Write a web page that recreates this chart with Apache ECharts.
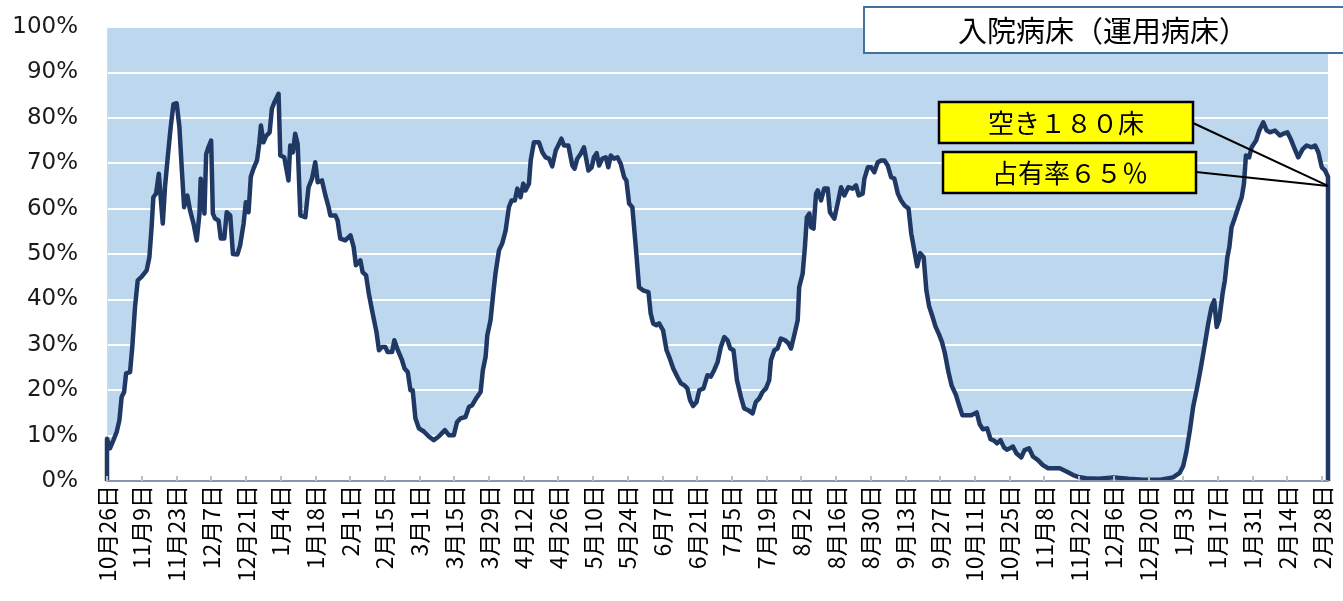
<!DOCTYPE html>
<html>
<head>
<meta charset="utf-8">
<title>入院病床（運用病床）</title>
<script src="https://cdn.jsdelivr.net/npm/echarts@6.0.0/dist/echarts.min.js"></script>
<style>
  html, body { margin: 0; padding: 0; background: #fff; }
  #main { width: 1343px; height: 601px; }
</style>
</head>
<body>
<div id="main"></div>
<script>
// 14日ごとの目盛ラベル（10月26日〜2月28日）
var tickLabels = [
  '10月26日', '11月9日', '11月23日', '12月7日', '12月21日', '1月4日', '1月18日',
  '2月1日', '2月15日', '3月1日', '3月15日', '3月29日', '4月12日', '4月26日',
  '5月10日', '5月24日', '6月7日', '6月21日', '7月5日', '7月19日', '8月2日',
  '8月16日', '8月30日', '9月13日', '9月27日', '10月11日', '10月25日', '11月8日',
  '11月22日', '12月6日', '12月20日', '1月3日', '1月17日', '1月31日', '2月14日', '2月28日'
];

// 10月26日からの経過日数
var days = [
  0, 0, 1.2, 2.6, 3.9, 5, 5.9, 6.9, 7.7, 9.3, 10.2, 11.3, 12.4, 14, 16, 17.1, 18, 18.7, 19.8,
  20.9, 21.7, 22.5, 23.4, 24.5, 25.7, 26.8, 28.1, 29.2, 30.2, 31.1, 32.4, 33.5, 34.9, 36.2,
  37.3, 37.8, 38.6, 39.3, 40, 40.9, 42, 42.7, 43.6, 45, 45.9, 47.3, 48.3, 49.7, 50.8, 52.6,
  53.7, 55.1, 56, 57.1, 58, 59.1, 60.5, 61.4, 62.1, 63.1, 64.2, 65.6, 66.5, 67.5, 69.2, 69.9,
  71.5, 73.2, 73.9, 75, 75.9, 76.9, 78, 80, 81.3, 82.7, 84, 85, 86.7, 88.1, 89.4, 90.1, 92.1,
  93, 94.1, 96.1, 98.2, 99.5, 100.4, 102.2, 103.1, 104.5, 105.6, 106.9, 108.7, 109.7, 110.9,
  112.3, 113.2, 115, 115.9, 117.3, 119, 120, 121.3, 122.4, 123.3, 124.4, 125.8, 127.8, 129.8,
  131.8, 133.8, 136.3, 137.9, 139.9, 141.2, 142.6, 144.6, 146, 147.3, 148.9, 150.7, 151.6,
  152.7, 153.4, 154.7, 155.8, 156.7, 158.1, 159.4, 160.8, 162.1, 163.2, 164.5, 165.5, 166.8,
  167.9, 168.8, 170.2, 170.9, 172.2, 174.2, 175.6, 176.9, 178.3, 179.6, 181, 182, 183.3, 184.3,
  186.1, 187.7, 188.6, 189.7, 191.1, 192.4, 194.2, 195.5, 196.4, 197.5, 198.5, 199.8, 201.2,
  202.2, 203.2, 204.5, 205.9, 207.2, 208.6, 209.5, 210.6, 211.9, 213.3, 214.6, 216.2, 218.4,
  219.3, 220.3, 221.6, 222.7, 224.3, 225.7, 227, 228.4, 230.1, 231.5, 232.8, 234.1, 235.2,
  236.4, 237.8, 238.9, 240.6, 242.2, 243.6, 244.9, 246.3, 247.6, 249, 250.3, 251.4, 252.7,
  254.1, 255.7, 257, 258.6, 260.4, 261.7, 263.1, 264.4, 265.8, 267.1, 267.8, 269.2, 270.5,
  271.8, 273.5, 274.9, 275.9, 277.2, 278.6, 279.2, 280.6, 281.5, 282.3, 283.3, 284, 285, 286,
  286.7, 288, 289.3, 290.7, 291.6, 293.4, 294.7, 296.1, 297.4, 299, 300.8, 302.1, 303.2,
  304.8, 305.5, 306.9, 308.2, 309.5, 310.9, 312.2, 313.6, 314.9, 316.3, 317.6, 319, 320.3,
  321.7, 323.3, 324.4, 325.7, 326.8, 328, 329.4, 330.5, 331.6, 332.8, 334.2, 335.6, 336.8,
  337.9, 339.4, 340.7, 342.4, 343.8, 345, 348.6, 350.8, 352, 353.3, 355, 356.4, 357.8, 359,
  360.4, 361.8, 363, 364.2, 365.4, 366.8, 368.8, 370.1, 371.9, 373.5, 375.5, 377.5, 379.6,
  381.6, 384.3, 387, 389.7, 391.7, 395, 400, 406, 412, 418, 425, 430, 432.7, 434.1, 435.4,
  436.8, 438.1, 439.5, 440.8, 442.2, 443.3, 444.2, 445.5, 446.6, 447.6, 448.6, 450, 450.9,
  451.9, 452.7, 453.6, 455, 456.3, 457.7, 458.6, 459.4, 460.7, 461.7, 463.5, 464.8, 466.4,
  467.8, 469.1, 471.1, 473.1, 474.5, 476.1, 477.4, 478.8, 480.5, 482.3, 483.9, 485.9, 487.3,
  488.6, 490, 491.3, 492.5, 492.5
];

// 病床占有率（%）
var occupancy = [
  0, 9.3, 7.2, 9, 10.8, 13.4, 18.5, 19.6, 23.7, 24, 29.5, 38.3, 44.2, 45, 46.4, 49.3, 56, 62.5, 63.3,
  67.7, 67.3, 56.7, 64.8, 71.3, 78, 83, 83.2, 78, 68.4, 60.3, 62.9, 59.6, 56.7, 53,
  58.9, 66.6, 67, 58.9, 72, 73.5, 75, 58.9, 57.8, 57.4, 53.4, 53.4, 59.2, 58.5, 50, 49.9,
  51.9, 56.7, 61.4, 59.2, 67, 68.8, 70.6, 74.3, 78.3, 74.6, 76, 76.8, 82, 83.4, 85.3, 71.7,
  71.3, 66.2, 73.9, 72.4, 76.5, 74.3, 58.5, 58.1, 64.7, 66.6, 70.2, 65.8, 66.2, 62.9, 60.3, 58.5, 58.5,
  57.4, 53.4, 53, 54.1, 51.5, 47.5, 48.6, 46, 45.3, 41.3, 37.6, 32.8, 28.8, 29.5,
  29.5, 28.4, 28.4, 31, 28.8, 26.6, 24.8, 24, 20, 20, 13.8, 11.6, 10.9, 9.8,
  9, 9.8, 11.2, 10.1, 10.1, 13, 13.8, 14.1, 16.3, 16.7, 18.2, 19.6, 24.4,
  27.3, 32.1, 35.4, 41.3, 45.7, 50.8, 52.3, 55.2, 60.3, 61.8, 61.8, 64.4, 62.5,
  65.5, 64, 65.5, 70.6, 74.6, 74.6, 72.4, 71.3, 71, 69.3, 72.8, 73.9, 75.4, 73.9,
  73.9, 69.5, 68.8, 71, 72.1, 73.5, 68.4, 69.1, 71.3, 72.2, 69.5, 71, 71.3,
  69.1, 71.7, 71, 71.3, 69.9, 66.9, 66.2, 61.1, 60.3, 51.5, 42.7, 42, 41.6,
  36.9, 34.7, 34.3, 34.7, 33.2, 28.8, 27, 24.8, 22.9, 21.5, 21.1, 20.4, 17.8,
  16.5, 17.4, 20, 20.4, 23.3, 23, 24.4, 26.2, 29.5, 31.7, 31, 29.2, 28.8,
  22.2, 18.5, 16, 15.6, 14.9, 17.4, 18.2, 19.6, 20.4, 22.2, 26.6, 28.8, 29.2,
  31.4, 31, 30.3, 29.2, 32.1, 35.4, 42.7, 45.7, 51.5, 58.1, 58.9, 55.9, 55.6, 63.3,
  64, 61.8, 64.4, 64.4, 59.2, 57.8, 61.1, 64.7, 62.9, 64.7, 64.4, 65.1, 62.9,
  63.3, 66.6, 69.1, 69.1, 68, 70.2, 70.6, 70.6, 69.5, 66.9, 66.6, 63.3, 61.8,
  60.7, 60, 54.5, 50.6, 47.3, 50.2, 49.3, 42, 38.5, 36.5, 34, 32.3, 30.6,
  28.3, 24, 21, 19, 16.5, 14.5, 14.5, 15.1, 12.5, 11.4, 11.6, 9.2, 8.9, 8.3,
  9, 7.4, 6.9, 7.2, 7.6, 6.1, 5.2, 6.8, 7.2, 5.4, 4.6, 3.5, 2.8,
  2.8, 2.8, 2.1, 1.3, 0.9, 0.6, 0.5, 0.8, 0.5, 0.3, 0.3, 0.8, 1.8, 3.3, 6.5,
  11.2, 16.3, 20, 23.7, 28.1, 31.7, 34.7, 38.3, 39.8, 33.9, 35.4, 41.3, 44.2,
  49.3, 51.5, 55.9, 58.1, 60.3, 62.5, 65.5, 71.7, 71.3, 73.5, 75, 77.2, 79,
  77.2, 76.8, 77.2, 76.1, 76.5, 76.8, 75.4, 73.5, 71.3, 73.1, 73.9, 73.5, 73.9,
  72.4, 69.1, 68.4, 67, 0
];

var chartTitle = '入院病床（運用病床）';
var vacantText = '空き１８０床';
var rateText = '占有率６５％';
var rateValue = 65;

var myChart = echarts.init(document.getElementById('main'));

var seriesData = days.map(function (d, i) { return [d, occupancy[i]]; });
var lastDay = days[days.length - 1];

myChart.setOption({
  animation: false,
  grid: {
    left: 107, right: 15, top: 27, bottom: 120,
    show: true,
    backgroundColor: '#BDD7EE',
    borderWidth: 0
  },
  xAxis: {
    type: 'value',
    min: 0,
    max: 492.5,
    interval: 14,
    z: 10,
    axisLine: { show: true, lineStyle: { color: '#8497B0', width: 2 } },
    axisTick: { show: true, inside: true, length: 5, lineStyle: { color: '#BFBFBF', width: 2 } },
    splitLine: { show: false },
    axisLabel: {
      rotate: 90,
      margin: 4,
      fontSize: 23,
      fontFamily: 'Noto Sans CJK JP',
      color: '#000',
      showMaxLabel: false,
      formatter: function (v) {
        if (v % 14 !== 0) return '';
        return tickLabels[v / 14] || '';
      }
    }
  },
  yAxis: {
    type: 'value',
    min: 0,
    max: 100,
    interval: 10,
    axisLine: { show: true, lineStyle: { color: '#D6DCE4', type: 'dotted', width: 1 } },
    axisTick: { show: false },
    splitLine: { show: true, lineStyle: { color: '#FFFFFF', width: 2 } },
    axisLabel: {
      margin: 29,
      fontSize: 23,
      fontFamily: 'DejaVu Sans',
      color: '#1a1a1a',
      formatter: '{value}%'
    }
  },
  series: [
    {
      name: '入院病床',
      type: 'line',
      data: seriesData,
      showSymbol: false,
      clip: false,
      lineStyle: { color: '#203864', width: 4.5, join: 'round' },
      areaStyle: { color: '#FFFFFF', opacity: 1 }
    }
  ]
});

// 注記（タイトル枠・黄色ラベル・引出線）
var endPt = myChart.convertToPixel({ gridIndex: 0 }, [lastDay, rateValue]);
myChart.setOption({
  graphic: [
    {
      type: 'rect', z: 100,
      shape: { x: 864, y: 7, width: 520, height: 46 },
      style: { fill: '#FFFFFF', stroke: '#41719C', lineWidth: 2 }
    },
    {
      type: 'text', z: 101,
      style: {
        text: chartTitle, x: 1103, y: 31,
        textAlign: 'center', textVerticalAlign: 'middle',
        font: '29px "Noto Sans CJK JP"', fill: '#000'
      }
    },
    {
      type: 'line', z: 100,
      shape: { x1: 1193, y1: 123, x2: endPt[0], y2: endPt[1] },
      style: { stroke: '#000', lineWidth: 2 }
    },
    {
      type: 'line', z: 100,
      shape: { x1: 1196, y1: 172, x2: endPt[0], y2: endPt[1] },
      style: { stroke: '#000', lineWidth: 2 }
    },
    {
      type: 'rect', z: 100,
      shape: { x: 939, y: 102, width: 254, height: 41 },
      style: { fill: '#FFFF00', stroke: '#000', lineWidth: 2.5 }
    },
    {
      type: 'text', z: 101,
      style: {
        text: vacantText, x: 1066, y: 123,
        textAlign: 'center', textVerticalAlign: 'middle',
        font: '26px "Noto Sans CJK JP"', fill: '#000'
      }
    },
    {
      type: 'rect', z: 100,
      shape: { x: 943, y: 152, width: 253, height: 41 },
      style: { fill: '#FFFF00', stroke: '#000', lineWidth: 2.5 }
    },
    {
      type: 'text', z: 101,
      style: {
        text: rateText, x: 1070, y: 173,
        textAlign: 'center', textVerticalAlign: 'middle',
        font: '26px "Noto Sans CJK JP"', fill: '#000'
      }
    }
  ]
});
</script>
</body>
</html>
